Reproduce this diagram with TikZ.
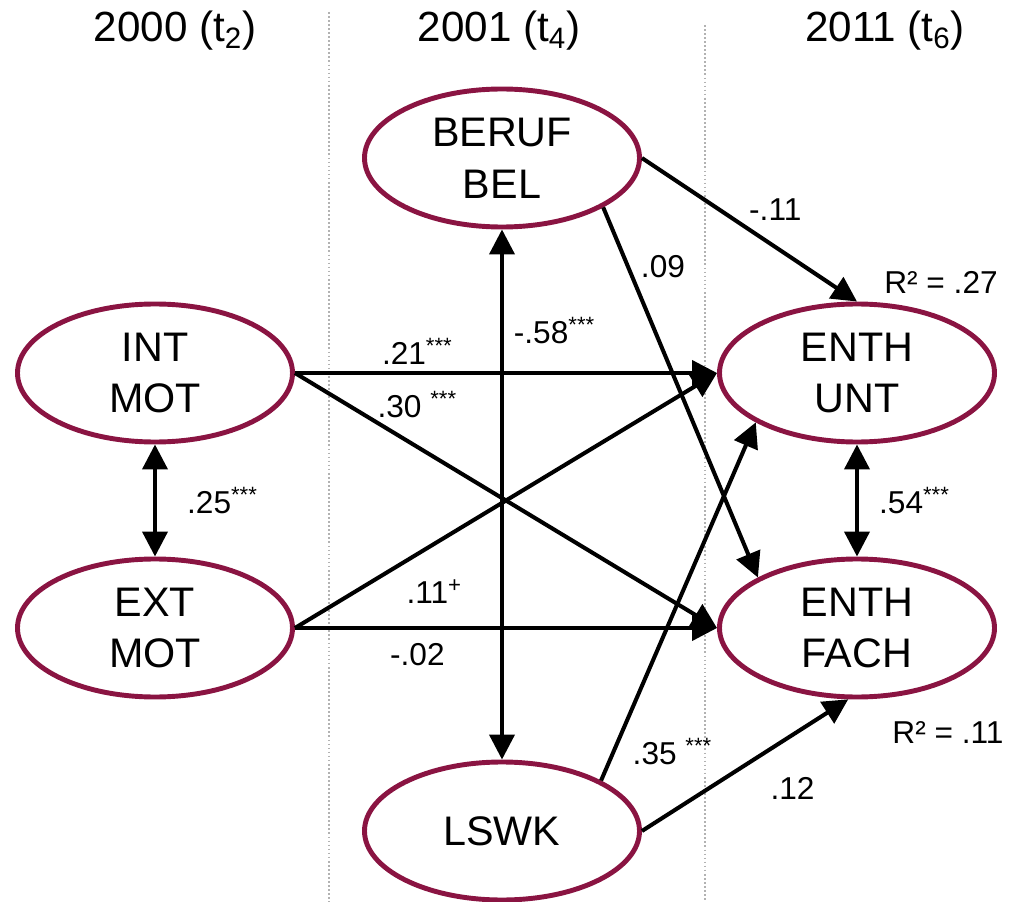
\documentclass[tikz,border=0pt]{standalone}
\usepackage{fontspec}
\setmainfont{Liberation Sans}
\usepackage{tikz}
\usepackage{xcolor}
\usetikzlibrary{shapes.geometric}
\usetikzlibrary{positioning}
\usetikzlibrary{arrows.meta}
\definecolor{maroon}{RGB}{138,20,66}
\tikzstyle{latent} = [ellipse, minimum width=5.5cm, minimum height=2.76cm, inner sep=0pt, align=center, draw=maroon, line width=2.8pt, fill=white, font=\fontsize{23.5}{29.5}\selectfont]
\tikzstyle{header} = [anchor=base, font=\fontsize{24}{28}\selectfont]
\tikzstyle{lbl} = [inner sep=0pt, font=\fontsize{18}{21}\selectfont]
\tikzstyle{arrow} = [line width=2.3pt, -{Triangle[length=5mm, width=5mm]}]
\tikzstyle{dblarrow} = [line width=2.3pt, {Triangle[length=5mm, width=5mm]}-{Triangle[length=5mm, width=5mm]}]
\tikzstyle{sep} = [gray!60, line width=0.8pt, dash pattern=on 1pt off 1.3pt]

\begin{document}
\begin{tikzpicture}[node distance=5.1cm]
        \useasboundingbox (-3.1,-10.58) rectangle (17.1,7.46);
        \draw [sep] (3.48,7.22) -- (3.48,-10.58);
        \draw [sep] (11.0,6.96) -- (11.0,-10.58);

        \node (h2000) [header] at (0.4,6.62) {2000 (t\textsubscript{2})};
        \node (h2001) [header] at (6.88,6.62) {2001 (t\textsubscript{4})};
        \node (h2011) [header] at (14.6,6.62) {2011 (t\textsubscript{6})};

        \node (intmot) [latent] {INT\\MOT};
        \node (extmot) [latent, below of=intmot] {EXT\\MOT};
        \node (berufbel) [latent, right of=intmot, xshift=1.84cm, yshift=4.3cm] {BERUF\\BEL};
        \node (lswk) [latent, below of=berufbel, yshift=-8.36cm] {LSWK};
        \node (enthunt) [latent, right of=intmot, xshift=8.94cm] {ENTH\\UNT};
        \node (enthfach) [latent, below of=enthunt] {ENTH\\FACH};
        \node (r2unt) [lbl, xshift=16.8mm, yshift=18.2mm] at (enthunt) {R² = .27};
        \node (r2fach) [lbl, xshift=18.2mm, yshift=-21mm] at (enthfach) {R² = .11};

        \draw [dblarrow] (intmot) -- node[lbl, pos=0.5, xshift=13.5mm] {.25\textsuperscript{***}} (extmot);
        \draw [dblarrow] (enthunt) -- node[lbl, pos=0.5, xshift=11.5mm] {.54\textsuperscript{***}} (enthfach);
        \draw [dblarrow] (berufbel) -- node[lbl, pos=0.19, xshift=10.5mm] {-.58\textsuperscript{***}} (lswk);
        \draw [arrow] (intmot) -- node[lbl, pos=0.29, anchor=south, yshift=1.2mm] {.21\textsuperscript{***}} (enthunt);
        \draw [arrow] (intmot.east) -- node[lbl, pos=0.29, yshift=8.4mm] {.30 \textsuperscript{***}} (enthfach.west);
        \draw [arrow] (extmot.east) -- node[lbl, pos=0.33, yshift=-9.6mm] {.11\textsuperscript{+}} (enthunt.west);
        \draw [arrow] (extmot) -- node[lbl, pos=0.29, yshift=-5.4mm] {-.02} (enthfach);
        \draw [arrow] (berufbel.east) -- node[lbl, pos=0.62, yshift=7.4mm] {-.11} (enthunt.north);
        \draw [arrow] (berufbel.-26) -- node[lbl, pos=0.16, xshift=7mm] {.09} (enthfach.153);
        \draw [arrow] (lswk.27) -- node[lbl, pos=0.08, xshift=11.8mm] {.35 \textsuperscript{***}} (enthunt.206);
        \draw [arrow] (lswk.east) -- node[lbl, pos=0.73, yshift=-10.8mm] {.12} (enthfach.-97);
    \end{tikzpicture}
\end{document}
